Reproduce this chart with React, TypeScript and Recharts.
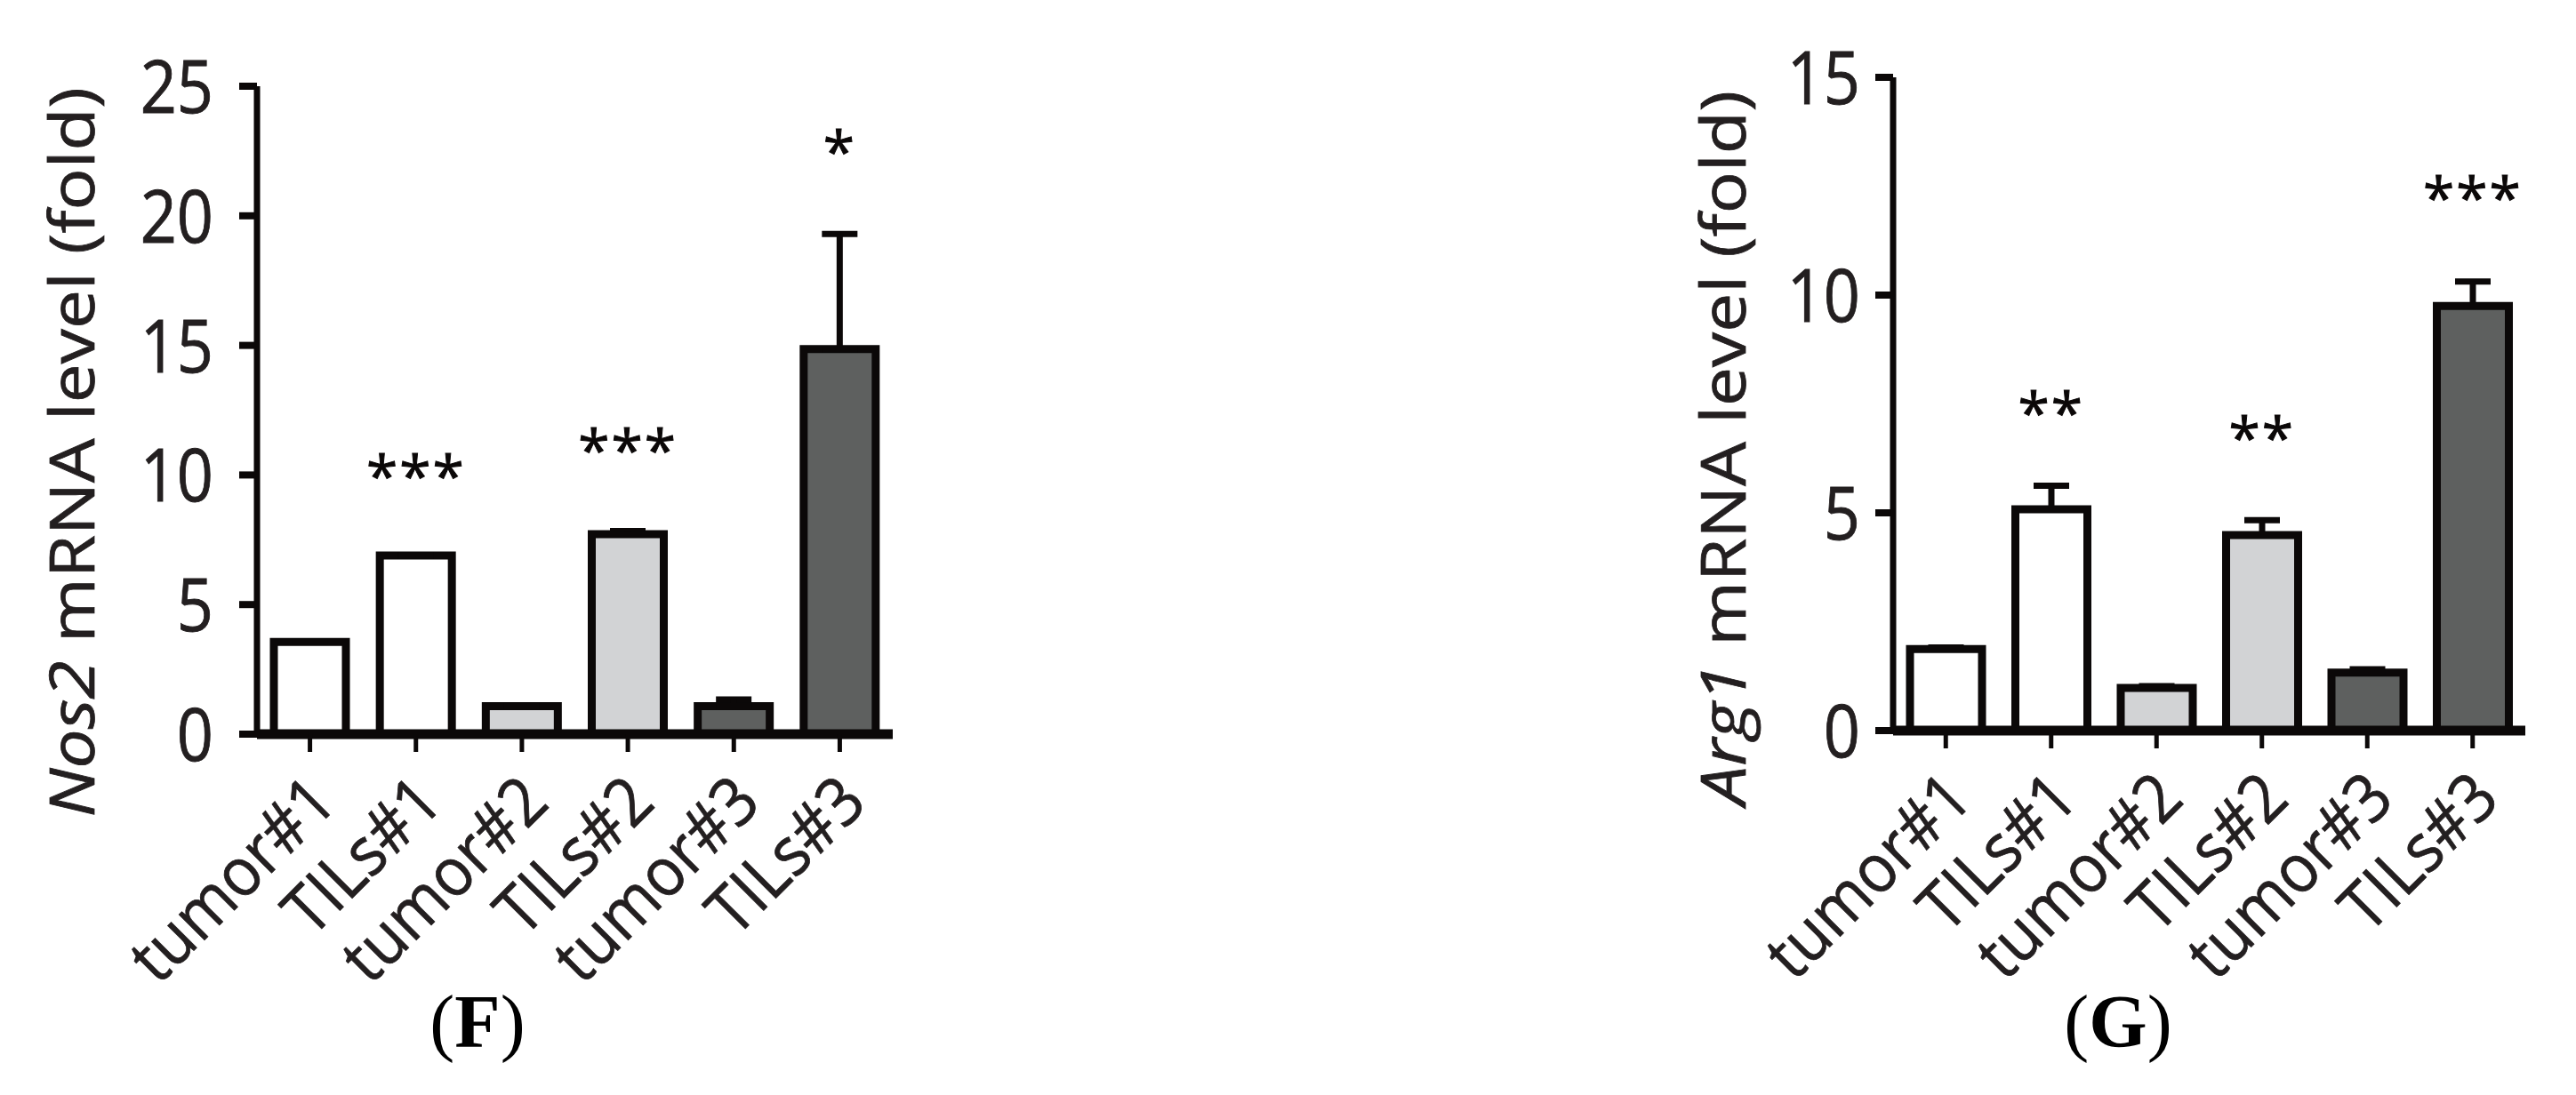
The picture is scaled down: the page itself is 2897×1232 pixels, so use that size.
import React from 'react';
import { ComposedChart, Bar, Scatter, XAxis, YAxis, Cell, ErrorBar, Label } from 'recharts';

// shared categories and fills
const categories = ['tumor#1', 'TILs#1', 'tumor#2', 'TILs#2', 'tumor#3', 'TILs#3'];
const barFills = ['#ffffff', '#ffffff', '#d2d3d5', '#d2d3d5', '#5e605f', '#5e605f'];

// panel F: Nos2
const nos2Mean = [3.56, 6.89, 1.08, 7.72, 1.08, 14.86];
const nos2Sem = [0, 0, 0, 0.12, 0.26, 4.44];
const nos2Marks = ['', '***', '', '***', '', '*'];
const nos2MarkLevel = [null, 10.4, null, 11.4, null, 22.9];
const nos2Ticks = [0, 5, 10, 15, 20, 25];

// panel G: Arg1
const arg1Mean = [1.87, 5.08, 0.98, 4.49, 1.33, 9.75];
const arg1Sem = [0.04, 0.54, 0.04, 0.34, 0.08, 0.56];
const arg1Marks = ['', '**', '', '**', '', '***'];
const arg1MarkLevel = [null, 7.55, null, 6.98, null, 12.49];
const arg1Ticks = [0, 5, 10, 15];

const INK = '#0b0808';
const TEXT = '#231f20';
const SANS = '"Open Sans", "Noto Sans", sans-serif';

const buildRows = (mean: number[], sem: number[], marks: string[], level: (number | null)[]) =>
  categories.map((name, i) => ({
    name,
    mean: mean[i],
    err: [0, sem[i]],
    mark: marks[i],
    markLevel: level[i],
  }));

const nos2Data = buildRows(nos2Mean, nos2Sem, nos2Marks, nos2MarkLevel);
const arg1Data = buildRows(arg1Mean, arg1Sem, arg1Marks, arg1MarkLevel);

// the source figure is a little stretched, so glyphs get a scale too
const XTick = (props: any) => {
  const { x, y, payload } = props;
  return (
    <g transform={`translate(${x + 33},${y}) rotate(-45) scale(0.92,1)`}>
      <text
        x={0}
        y={0}
        textAnchor="end"
        fontFamily={SANS}
        fontSize={76}
        fill={TEXT}
        stroke={TEXT}
        strokeWidth={0.8}
      >
        {payload.value}
      </text>
    </g>
  );
};

const YTick = (props: any) => {
  const { x, y, payload } = props;
  return (
    <g transform={`translate(${x},${y}) scale(1,1.15)`}>
      <text x={0} y={0} dy={26} textAnchor="end" fontFamily={SANS} fontSize={72} fill={TEXT} stroke={TEXT} strokeWidth={0.8}>
        {payload.value}
      </text>
    </g>
  );
};

const StarMark = (props: any) => {
  const { cx, cy, payload } = props;
  if (!payload || !payload.mark) return <g />;
  return (
    <text
      x={cx}
      y={cy}
      dy={36}
      textAnchor="middle"
      fontFamily={SANS}
      fontSize={64}
      letterSpacing={2}
      fill={INK}
      stroke={INK}
      strokeWidth={1}
    >
      {payload.mark}
    </text>
  );
};

interface PanelProps {
  data: any[];
  ticks: number[];
  gene: string;
  left: number;
  width: number;
  margin: { top: number; right: number; bottom: number; left: number };
  yTickMargin: number;
  labelX: number;
  labelY: number;
  letter: string;
  letterX: number;
}

const Panel: React.FC<PanelProps> = ({ data, ticks, gene, left, width, margin, yTickMargin, labelX, labelY, letter, letterX }) => {
  const yLabel = () => (
    <g transform={`translate(${labelX},${labelY}) rotate(-90) scale(1.12,1)`}>
      <text x={0} y={0} textAnchor="middle" fontFamily={SANS} fontSize={70} fill={TEXT} stroke={TEXT} strokeWidth={0.8}>
        <tspan fontStyle="italic">{gene}</tspan>
        <tspan> mRNA level (fold)</tspan>
      </text>
    </g>
  );

  return (
    <div style={{ position: 'absolute', left, top: 0, width, height: 1232 }}>
      <ComposedChart width={width} height={1232} data={data} margin={margin} barSize={81}>
        <XAxis
          dataKey="name"
          interval={0}
          height={300}
          tickSize={20}
          tickMargin={60}
          axisLine={{ stroke: INK, strokeWidth: 11 }}
          tickLine={{ stroke: INK, strokeWidth: 5 }}
          tick={<XTick />}
        />
        <YAxis
          width={200}
          domain={[0, ticks[ticks.length - 1]]}
          ticks={ticks}
          interval={0}
          tickSize={20}
          tickMargin={yTickMargin}
          axisLine={{ stroke: INK, strokeWidth: 7 }}
          tickLine={{ stroke: INK, strokeWidth: 8 }}
          tick={<YTick />}
        >
          <Label content={yLabel} />
        </YAxis>
        <Bar dataKey="mean" stroke={INK} strokeWidth={9} isAnimationActive={false}>
          {data.map((d, i) => (
            <Cell key={d.name} fill={barFills[i]} />
          ))}
          <ErrorBar dataKey="err" direction="y" width={20} stroke={INK} strokeWidth={7} isAnimationActive={false} />
        </Bar>
        <Scatter dataKey="markLevel" shape={<StarMark />} isAnimationActive={false} />
      </ComposedChart>
      <div
        style={{
          position: 'absolute',
          left: letterX - left - 100,
          width: 200,
          top: 1108,
          textAlign: 'center',
          fontFamily: '"Liberation Serif", "Times New Roman", serif',
          fontSize: 84,
          lineHeight: '84px',
          color: '#000',
        }}
      >
        (<b>{letter}</b>)
      </div>
    </div>
  );
};

export default function App() {
  return (
    <div style={{ position: 'absolute', left: 0, top: 0, width: 2897, height: 1232, background: '#fff', overflow: 'hidden' }}>
      <Panel
        data={nos2Data}
        ticks={nos2Ticks}
        gene="Nos2"
        left={0}
        width={1100}
        margin={{ top: 97, right: 96, bottom: 106, left: 89 }}
        yTickMargin={29}
        labelX={106}
        labelY={509}
        letter="F"
        letterX={537}
      />
      <Panel
        data={arg1Data}
        ticks={arg1Ticks}
        gene="Arg1"
        left={1800}
        width={1097}
        margin={{ top: 87, right: 57, bottom: 110, left: 129 }}
        yTickMargin={17}
        labelX={163}
        labelY={504}
        letter="G"
        letterX={2382}
      />
    </div>
  );
}
